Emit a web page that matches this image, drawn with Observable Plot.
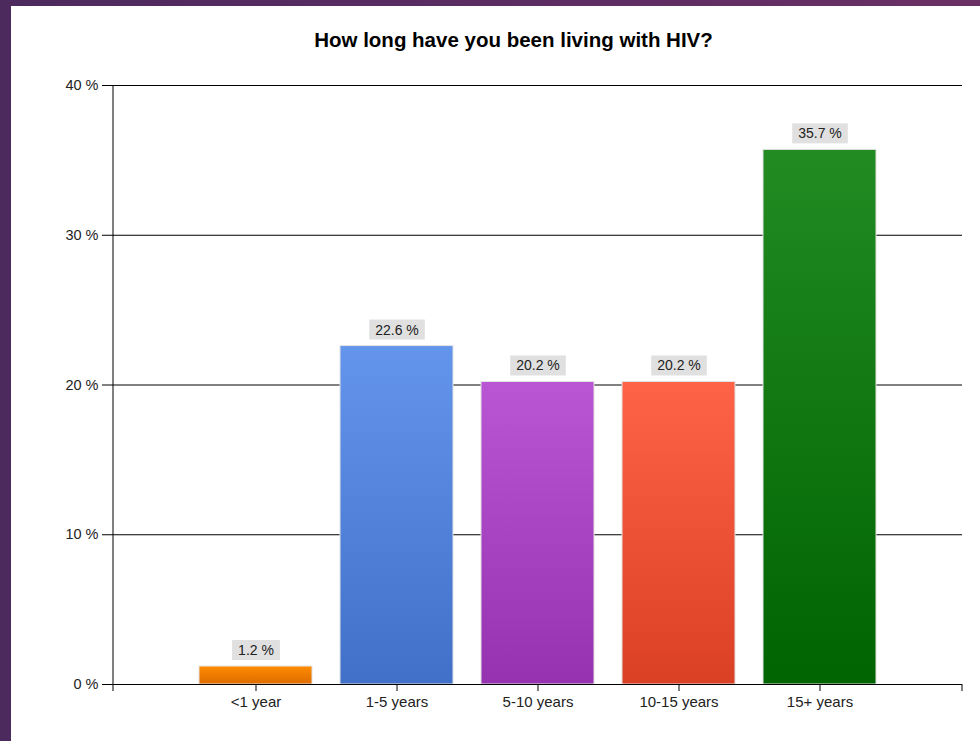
<!DOCTYPE html>
<html>
<head>
<meta charset="utf-8">
<script src="https://cdn.jsdelivr.net/npm/d3@7"></script>
<script src="https://cdn.jsdelivr.net/npm/@observablehq/plot@0.6"></script>
<style>
  html, body { margin: 0; padding: 0; }
  body {
    width: 980px; height: 741px; overflow: hidden; position: relative;
    background: linear-gradient(90deg, #4c2a5e 0%, #5a2c62 50%, #6a3064 100%);
  }
  #panel {
    position: absolute; left: 11px; top: 6px; width: 969px; height: 735px;
    background: #ffffff;
  }
  #title {
    height: 50px; box-sizing: border-box; padding: 23px 0 0 36px;
    text-align: center; font: bold 20.5px "Liberation Sans", Arial, sans-serif;
    line-height: 22px; color: #000;
  }
</style>
</head>
<body>
<div id="panel">
  <div id="title">How long have you been living with HIV?</div>
  <div id="chart"></div>
</div>
<script>
// Survey answers: time since diagnosis
const categories = ["<1 year", "1-5 years", "5-10 years", "10-15 years", "15+ years"];
const percentages = [1.2, 22.6, 20.2, 20.2, 35.7];
const yTicks = [0, 10, 20, 30, 40];

// Top and bottom colours of each bar's vertical gradient
const gradientTop = ["#ff8c00", "#6495ed", "#ba55d3", "#ff6347", "#228b22"];
const gradientBottom = ["#de6c00", "#4070c8", "#9631b0", "#da4024", "#006400"];

const rows = categories.map((c, i) => ({category: c, value: percentages[i]}));
const font = '"Liberation Sans", Arial, sans-serif';

const chart = Plot.plot({
  width: 969,
  height: 685,
  marginLeft: 102,
  marginRight: 18,
  marginTop: 29,
  marginBottom: 57,
  style: {fontFamily: font, fontSize: "14px", color: "#222", background: "transparent"},
  x: {domain: categories, paddingInner: 0.2, paddingOuter: 0.6, label: null},
  y: {domain: [0, 40], label: null},
  color: {domain: categories, range: categories.map((_, i) => `url(#bar-grad-${i})`)},
  marks: [
    Plot.gridY(yTicks, {stroke: "#000", strokeOpacity: 1}),
    Plot.axisY(yTicks, {tickSize: 11, tickPadding: 4, tickFormat: d => `${d} %`, stroke: "#000", fontSize: 14.5}),
    Plot.axisX({tickSize: 7, tickPadding: 5, stroke: "#000", fontSize: 15}),
    Plot.barY(rows, {x: "category", y: "value", fill: "category", stroke: "#e2e2e2", strokeWidth: 1}),
    Plot.ruleY([0], {stroke: "#000"}),
    Plot.text(rows, {
      x: "category", y: "value", text: d => `${d.value} %`, dy: -16,
      lineAnchor: "middle", fontSize: 14, fill: "#222"
    })
  ]
});

document.getElementById("chart").appendChild(chart);

const svg = d3.select(chart);
const xs = chart.scale("x");
const ys = chart.scale("y");

// Vertical gradients referenced by the bar fills
const defs = svg.insert("defs", ":first-child");
categories.forEach((_, i) => {
  const g = defs.append("linearGradient")
    .attr("id", `bar-grad-${i}`).attr("x1", 0).attr("y1", 0).attr("x2", 0).attr("y2", 1);
  g.append("stop").attr("offset", "0%").attr("stop-color", gradientTop[i]);
  g.append("stop").attr("offset", "100%").attr("stop-color", gradientBottom[i]);
});

// Left axis line and the end ticks of the category axis
const [xLeft, xRight] = xs.range;
const y0 = ys.apply(0), yTop = ys.apply(40);
const axisLines = svg.append("g").attr("stroke", "#000");
axisLines.append("line").attr("x1", xLeft).attr("x2", xLeft).attr("y1", yTop).attr("y2", y0 + 7);
axisLines.append("line").attr("x1", xRight).attr("x2", xRight).attr("y1", y0).attr("y2", y0 + 7);

// Grey boxes behind the value labels
svg.selectAll('g[aria-label="text"] text').each(function () {
  const node = this;
  const b = node.getBBox();
  const t = node.getAttribute("transform");
  const rect = d3.select(node.parentNode).insert("rect", () => node)
    .attr("x", b.x - 6).attr("y", b.y + b.height / 2 - 10)
    .attr("width", b.width + 12).attr("height", 20)
    .attr("fill", "#e0e0e0");
  if (t) rect.attr("transform", t);
});
</script>
</body>
</html>
